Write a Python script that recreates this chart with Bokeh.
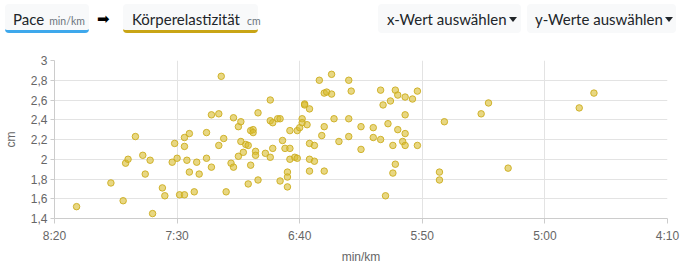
from bokeh.plotting import figure
from bokeh.models import Range1d, FixedTicker, CustomJSTickFormatter, ColumnDataSource, Div
from bokeh.layouts import column
from bokeh.embed import file_html
from bokeh.resources import INLINE

# pace in seconds per km, body elasticity in cm
pace_sec = [491, 477, 472, 471, 470, 467, 464, 463, 461, 460, 456, 455, 452, 451, 450,
            449, 447, 447, 447, 446, 445, 445, 443, 442, 441, 438, 438, 436, 436, 433,
            433, 432, 431, 430, 428, 427, 427, 425, 425, 424, 424, 423, 422, 421, 421,
            420, 420, 419, 419, 418, 418, 417, 417, 414, 412, 412, 412, 411, 411, 409,
            408, 408, 407, 406, 405, 405, 405, 404, 404, 404, 402, 401, 401, 400, 399,
            399, 398, 398, 397, 396, 396, 396, 396, 394, 394, 392, 391, 390, 390, 390,
            389, 387, 387, 386, 384, 380, 380, 380, 379, 375, 375, 370, 370, 367, 367,
            366, 365, 364, 363, 362, 362, 361, 361, 360, 360, 358, 357, 357, 357, 357,
            354, 352, 352, 343, 343, 341, 326, 323, 315, 286, 280]
elasticity_cm = [1.52, 1.76, 1.58, 1.96, 2.00, 2.23, 2.04, 1.85, 1.99, 1.45, 1.71, 1.63, 1.97, 2.16, 2.01,
                 1.64, 2.13, 2.22, 1.64, 1.99, 2.26, 1.87, 1.67, 1.97, 1.85, 2.27, 2.01, 1.92, 2.45, 2.46,
                 2.14, 2.84, 2.21, 1.67, 1.96, 2.42, 1.92, 2.33, 2.03, 2.38, 2.18, 2.07, 2.15, 2.14, 1.75,
                 2.29, 1.94, 2.30, 2.27, 2.08, 2.04, 2.47, 1.79, 2.06, 2.60, 2.39, 2.02, 2.37, 2.11, 2.41,
                 2.41, 1.78, 2.19, 2.11, 1.87, 1.82, 1.72, 2.29, 2.11, 2.00, 2.02, 2.01, 2.29, 2.32, 2.41,
                 2.37, 2.56, 2.55, 2.35, 2.51, 2.16, 2.00, 1.88, 2.14, 1.98, 2.80, 2.24, 2.67, 2.33, 1.88,
                 2.68, 2.86, 2.66, 2.41, 2.18, 2.80, 2.41, 2.23, 2.69, 2.33, 2.10, 2.32, 2.22, 2.70, 2.20,
                 2.55, 1.63, 2.36, 2.59, 2.14, 1.86, 2.70, 1.95, 2.65, 2.30, 2.18, 2.63, 2.45, 2.26, 2.14,
                 2.61, 2.69, 2.14, 1.87, 1.79, 2.38, 2.46, 2.57, 1.91, 2.52, 2.67]

x_ticks = [500, 450, 400, 350, 300, 250]
y_ticks = [1.4, 1.6, 1.8, 2.0, 2.2, 2.4, 2.6, 2.8, 3.0]

x_title = "min/km"
y_title = "cm"
button_labels = ["Pace", "Körperelastizität", "x-Wert auswählen", "y-Werte auswählen"]
button_units = ["min/km", "cm"]

FONT = "Liberation Sans"
HFONT = "Lato"

# ---------------- header (HTML buttons) ----------------
btn = ("position:absolute;top:4px;height:29px;box-sizing:border-box;background:#f8f9fa;"
       "border-radius:4px;font-size:15px;line-height:24px;padding-top:3px;white-space:nowrap;"
       "color:#212529;")
small = "font-size:10.5px;color:#6c757d;margin-left:5px;"
caret = ("display:inline-block;width:0;height:0;margin-left:2px;vertical-align:3px;"
         "border-top:5px solid #212529;border-left:4px solid transparent;border-right:4px solid transparent;")
html = f"""
<div style="position:relative;width:683px;height:40px;font-family:'{HFONT}',sans-serif;">
  <div style="{btn}left:5px;width:84px;padding-left:8px;border-bottom:3px solid #3ea8ec;">{button_labels[0]}<span style="{small}">{button_units[0]}</span></div>
  <div style="position:absolute;left:97px;top:7px;font-family:'DejaVu Sans';font-size:15px;line-height:24px;color:#000;">&#10145;</div>
  <div style="{btn}left:123px;width:135px;padding-left:9px;border-bottom:3px solid #c9a516;">{button_labels[1]}<span style="{small}margin-left:7px;">{button_units[1]}</span></div>
  <div style="{btn}left:378px;width:143px;padding-left:9px;">{button_labels[2]}<span style="{caret}"></span></div>
  <div style="{btn}left:527px;width:149px;padding-left:8px;">{button_labels[3]}<span style="{caret}"></span></div>
</div>
"""
header = Div(text=html, width=683, height=40, margin=0)

# ---------------- scatter plot ----------------
src = ColumnDataSource(dict(x=pace_sec, y=elasticity_cm))
p = figure(width=683, height=229, x_range=Range1d(500, 250), y_range=Range1d(1.4, 3.0),
           toolbar_location=None, output_backend="svg",
           min_border_left=54, min_border_right=16, min_border_top=20, min_border_bottom=51,
           outline_line_color=None, margin=0)
p.scatter("x", "y", source=src, size=6.5, fill_color="#d8bd2e", fill_alpha=0.6,
          line_color="#ccad1f", line_alpha=0.9, line_width=1)

p.xaxis.ticker = FixedTicker(ticks=x_ticks)
p.yaxis.ticker = FixedTicker(ticks=y_ticks)
p.xaxis.formatter = CustomJSTickFormatter(code="""
const m = Math.floor(tick / 60); const s = Math.round(tick % 60);
return m + ":" + (s < 10 ? "0" : "") + s;""")
p.yaxis.formatter = CustomJSTickFormatter(code="""
return (Math.round(tick * 10) / 10).toString().replace('.', ',');""")

p.xaxis.axis_label = x_title
p.yaxis.axis_label = y_title
for ax in (p.xaxis, p.yaxis):
    ax.axis_label_text_font = FONT
    ax.axis_label_text_font_size = "12px"
    ax.axis_label_text_font_style = "normal"
    ax.axis_label_text_color = "#666666"
    ax.major_label_text_font = FONT
    ax.major_label_text_font_size = "12px"
    ax.major_label_text_color = "#666666"
    ax.axis_line_color = "#cccccc"
    ax.major_tick_line_color = "#cccccc"
    ax.minor_tick_line_color = None
p.xaxis.major_tick_out = 5
p.xaxis.major_tick_in = 0
p.xaxis.major_label_standoff = 5
p.xaxis.axis_label_standoff = 4
p.yaxis.major_tick_out = 4
p.yaxis.major_tick_in = 0
p.yaxis.major_label_standoff = 3
p.yaxis.axis_label_standoff = 10

p.grid.grid_line_color = "#e3e3e3"
p.grid.grid_line_width = 1

out = column(header, p, spacing=0)
open("out.html", "w").write(file_html(out, INLINE))
